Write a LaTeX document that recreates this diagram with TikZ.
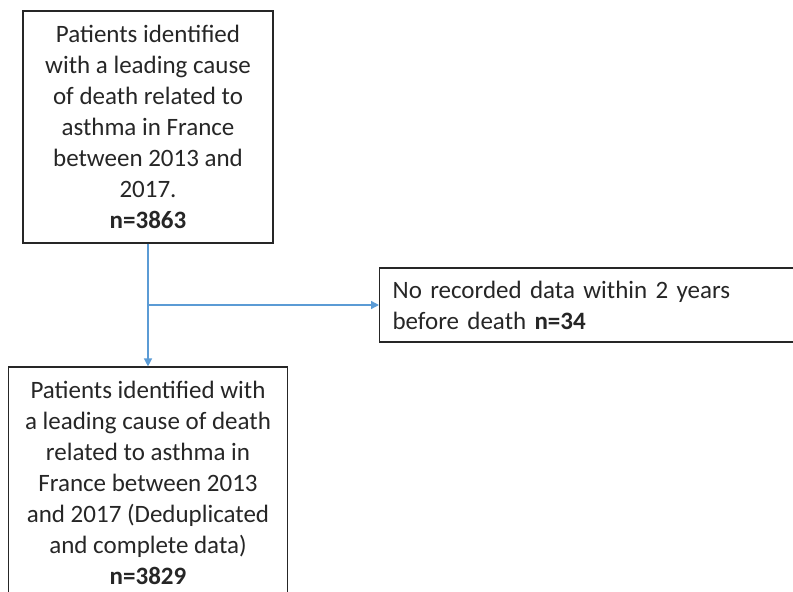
\documentclass[tikz,border=0pt]{standalone}
\usepackage{fontspec}
\setmainfont{Carlito}
\usetikzlibrary{arrows.meta}
\definecolor{connblue}{HTML}{5B9BD5}
\definecolor{ink}{HTML}{262626}
\begin{document}
\begin{tikzpicture}[x=1pt,y=-1pt,
  box/.style={draw=black!85, line width=1.2pt, inner sep=0pt, align=center,
    font=\fontsize{25}{31}\selectfont, text=ink},
  conn/.style={draw=connblue, line width=1.4pt},
  tip/.style={-{Triangle[width=8pt,length=8pt]}}]
\useasboundingbox (0,0) rectangle (793,592);
\clip (0,0) rectangle (793,592);
\node[box, minimum width=250pt, minimum height=232pt] (top) at (148,127)
  {Patients identified\\with a leading cause\\of death related to\\asthma in France\\between 2013 and\\2017.\\\textbf{n=3863}};
\node[box, minimum width=279pt, minimum height=232pt] (bot) at (148,483)
  {Patients identified with\\a leading cause of death\\related to asthma in\\France between 2013\\and 2017 (Deduplicated\\and complete data)\\\textbf{n=3829}};
\node[box, align=left, anchor=west, inner xsep=13pt, text width=414pt, minimum height=74pt] (right) at (379,305)
  {No recorded data within 2 years\\before death \textbf{n=34}};
\coordinate (j) at (top.south |- right.west);
\draw[conn, tip] (top.south) -- (bot.north);
\draw[conn, tip] (j) -- (right.west);
\end{tikzpicture}
\end{document}
